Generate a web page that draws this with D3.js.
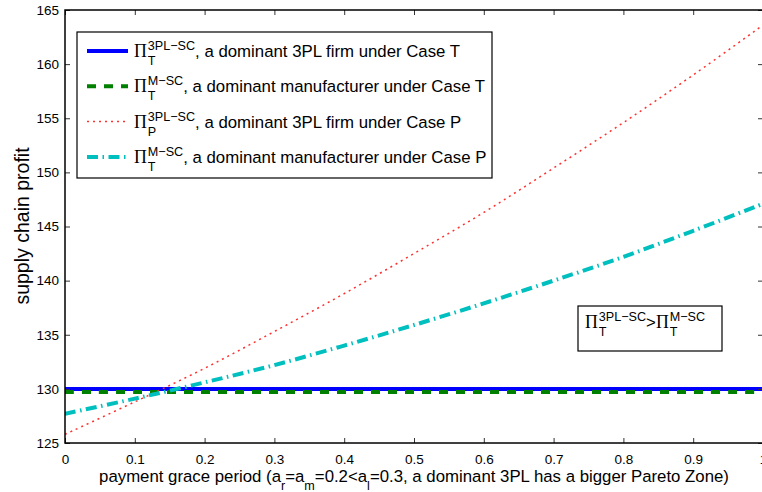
<!DOCTYPE html>
<html>
<head>
<meta charset="utf-8">
<script src="https://cdn.jsdelivr.net/npm/d3@7"></script>
<style>
  body { margin: 0; background: #fff; }
  text { font-family: "Liberation Sans", Arial, sans-serif; fill: #000; }
</style>
</head>
<body>
<script>
// supply chain profit vs payment grace period

var gracePeriod = [0, 0.1, 0.2, 0.3, 0.4, 0.5, 0.6, 0.7, 0.8, 0.9, 1.0];
var profit3plT = [130.0, 130.0, 130.0, 130.0, 130.0, 130.0, 130.0, 130.0, 130.0, 130.0, 130.0];
var profitManT = [129.7, 129.7, 129.7, 129.7, 129.7, 129.7, 129.7, 129.7, 129.7, 129.7, 129.7];
var profit3plP = [125.8, 128.8, 131.9, 135.3, 138.8, 142.5, 146.3, 150.4, 154.6, 159.0, 163.6];
var profitManP = [127.7, 129.1, 130.6, 132.2, 134.0, 135.9, 137.9, 140.0, 142.2, 144.6, 147.1];

var xTicks = [0, 0.1, 0.2, 0.3, 0.4, 0.5, 0.6, 0.7, 0.8, 0.9, 1];
var yTicks = [125, 130, 135, 140, 145, 150, 155, 160, 165];

var legendLabels = [
  {sup: '3PL\u2212SC', sub: 'T', text: ', a dominant 3PL firm under Case T'},
  {sup: 'M\u2212SC', sub: 'T', text: ', a dominant manufacturer under Case T'},
  {sup: '3PL\u2212SC', sub: 'P', text: ', a dominant 3PL firm under Case P'},
  {sup: 'M\u2212SC', sub: 'T', text: ', a dominant manufacturer under Case P'}
];

var outerWidth = 762,
    outerHeight = 492,
    plotLeft = 65, plotRight = 763, plotTop = 10, plotBottom = 443;

var svg = d3.select('body').append('svg')
  .attr('width', outerWidth)
  .attr('height', outerHeight);

var xScale = d3.scaleLinear().domain([0, 1]).range([plotLeft, plotRight]);
var yScale = d3.scaleLinear().domain([125, 165]).range([plotBottom, plotTop]);

var series = [
  {values: profit3plT, color: '#0000ff', width: 4, dash: null},
  {values: profitManT, color: '#008000', width: 4, dash: '9,8'},
  {values: profit3plP, color: '#ff3030', width: 1.5, dash: '2,4'},
  {values: profitManP, color: '#00bfbf', width: 4, dash: '11,4.5,1.5,4.5'}
];

var line = d3.line()
  .x(function(d, i){ return xScale(gracePeriod[i]); })
  .y(function(d){ return yScale(d); })
  .curve(d3.curveCatmullRom);

var plot = svg.append('g');
plot.append('clipPath').attr('id', 'clip')
  .append('rect').attr('x', plotLeft).attr('y', plotTop)
  .attr('width', plotRight - plotLeft).attr('height', plotBottom - plotTop);

plot.selectAll('path.series').data(series).enter().append('path')
  .attr('class', 'series')
  .attr('clip-path', 'url(#clip)')
  .attr('d', function(d){ return line(d.values); })
  .attr('fill', 'none')
  .attr('stroke', function(d){ return d.color; })
  .attr('stroke-width', function(d){ return d.width; })
  .attr('stroke-dasharray', function(d){ return d.dash; });

// axes, ticks pointing inwards on all four sides
var xAxisB = d3.axisBottom(xScale).tickValues(xTicks).tickSizeInner(-5).tickSizeOuter(0)
  .tickPadding(11).tickFormat(d3.format('~g'));
var xAxisT = d3.axisTop(xScale).tickValues(xTicks).tickSizeInner(-5).tickSizeOuter(0).tickFormat('');
var yAxisL = d3.axisLeft(yScale).tickValues(yTicks).tickSizeInner(-5).tickSizeOuter(0).tickPadding(6);
var yAxisR = d3.axisRight(yScale).tickValues(yTicks).tickSizeInner(-5).tickSizeOuter(0).tickFormat('');

function styleAxis(g){
  g.attr('font-size', 13.5).attr('font-family', '"Liberation Sans", Arial, sans-serif');
  g.select('.domain').remove();
  g.selectAll('.tick line').attr('stroke', '#333').attr('stroke-width', 1);
  g.selectAll('.tick text').attr('fill', '#000');
}

svg.append('g').attr('transform', 'translate(0,' + plotBottom + ')').call(xAxisB).call(styleAxis);
svg.append('g').attr('transform', 'translate(0,' + plotTop + ')').call(xAxisT).call(styleAxis);
svg.append('g').attr('transform', 'translate(' + plotLeft + ',0)').call(yAxisL).call(styleAxis);
svg.append('g').attr('transform', 'translate(' + plotRight + ',0)').call(yAxisR).call(styleAxis);

svg.append('rect')
  .attr('x', plotLeft).attr('y', plotTop)
  .attr('width', plotRight - plotLeft).attr('height', plotBottom - plotTop)
  .attr('fill', 'none').attr('stroke', '#000').attr('stroke-width', 1.5);

// write text with a Pi symbol and stacked super/subscripts, returns width
function mathText(g, x, y, parts, size){
  var cx = x;
  parts.forEach(function(p){
    if (p.pi) {
      var t = g.append('text').attr('x', cx).attr('y', y)
        .style('font-family', '"Liberation Serif", "Times New Roman", serif')
        .attr('font-size', size + 1).text('\u03A0');
      cx += t.node().getComputedTextLength() + 1;
    } else if (p.sup || p.sub) {
      var w = 0;
      if (p.sup) {
        var s = g.append('text').attr('x', cx).attr('y', y - 7)
          .attr('font-size', size * 0.75).text(p.sup);
        w = Math.max(w, s.node().getComputedTextLength());
      }
      if (p.sub) {
        var b = g.append('text').attr('x', cx).attr('y', y + 8)
          .attr('font-size', size * 0.75).text(p.sub);
        w = Math.max(w, b.node().getComputedTextLength());
      }
      cx += w;
    } else {
      var m = g.append('text').attr('x', cx).attr('y', y)
        .attr('font-size', size).text(p.t);
      cx += m.node().getComputedTextLength();
    }
  });
  return cx - x;
}

// legend
var legend = svg.append('g');
legend.append('rect')
  .attr('x', 77).attr('y', 32).attr('width', 415).attr('height', 146)
  .attr('fill', '#fff').attr('stroke', '#000').attr('stroke-width', 1.2);

legendLabels.forEach(function(d, i){
  var y = 57 + i * 35.3;
  legend.append('line')
    .attr('x1', 87).attr('x2', 128).attr('y1', y - 6).attr('y2', y - 6)
    .attr('stroke', series[i].color)
    .attr('stroke-width', series[i].width)
    .attr('stroke-dasharray', series[i].dash);
  mathText(legend, 134, y, [{pi: true}, {sup: d.sup, sub: d.sub}, {t: d.text}], 16.8);
});

// annotation box
var note = svg.append('g');
note.append('rect')
  .attr('x', 578).attr('y', 306).attr('width', 144).attr('height', 45)
  .attr('fill', '#fff').attr('stroke', '#000').attr('stroke-width', 1.2);
mathText(note, 585, 328, [{pi: true}, {sup: '3PL\u2212SC', sub: 'T'}, {t: '>'},
  {pi: true}, {sup: 'M\u2212SC', sub: 'T'}], 16.8);

// x label, centred under the plot
var xl = svg.append('g');
var xw = mathText(xl, 0, 482, [
  {t: 'payment grace period (a'}, {sub: 'r'}, {t: '=a'}, {sub: 'm'},
  {t: '=0.2<a'}, {sub: 'l'}, {t: '=0.3, a dominant 3PL has a bigger Pareto Zone)'}], 16.8);
xl.attr('transform', 'translate(' + ((plotLeft + plotRight) / 2 - xw / 2) + ',0)');

// y label
svg.append('text')
  .attr('transform', 'translate(29,226) rotate(-90)')
  .attr('text-anchor', 'middle')
  .attr('font-size', 19.5)
  .text('supply chain profit');
</script>
</body>
</html>
